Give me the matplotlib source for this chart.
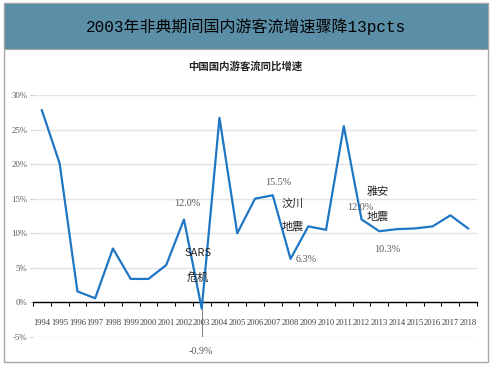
import numpy as np
import matplotlib as mp
from matplotlib import pyplot as plt
from matplotlib.patches import Rectangle

plt.rcParams['font.family'] = ['Noto Sans CJK SC', 'DejaVu Sans']

# data
years = [str(y) for y in range(1994, 2019)]
growth = [27.8, 20.1, 1.6, 0.6, 7.8, 3.4, 3.4, 5.4, 12.0, -0.9,
          26.7, 10.0, 15.0, 15.5, 6.3, 11.0, 10.5, 25.5, 12.0, 10.3,
          10.6, 10.7, 11.0, 12.6, 10.7]
y_ticks = [-5, 0, 5, 10, 15, 20, 25, 30]
title = "2003年非典期间国内游客流增速骤降13pcts"
subtitle = "中国国内游客流同比增速"

W, H = 492, 367
fig = plt.figure(figsize=(W / 100, H / 100), dpi=100)
fig.patch.set_facecolor("white")

def fx(px):
    return px / W

def fy(py):
    return 1 - py / H

# outer frame and banner
fig.patches.append(Rectangle((fx(4), fy(362)), fx(484), (362 - 3) / H,
                             transform=fig.transFigure, fill=False,
                             edgecolor="#a6a6a6", linewidth=1.0))
fig.patches.append(Rectangle((fx(4), fy(49)), fx(484), 46 / H,
                             transform=fig.transFigure, facecolor="#5b8fa8",
                             edgecolor="#a6a6a6", linewidth=0.8))
fig.text(0.5, fy(27), title, ha="center", va="center", fontsize=11.5,
         family=['Liberation Mono', 'Noto Sans CJK SC'], color="black",
         fontweight="medium")
fig.text(fx(245), fy(66), subtitle, ha="center", va="center", fontsize=7.5,
         fontweight="bold", color="#262626")

ax = fig.add_axes([fx(33), fy(337), fx(444), (337 - 95) / H])
x = np.arange(len(years))
blue = "#1f77c4"
ax.plot(x, growth, color=blue, linewidth=1.6, zorder=3)

ax.set_xlim(-0.5, len(years) - 0.5)
ax.set_ylim(-5, 30)
ax.set_yticks(y_ticks)
ax.set_yticklabels(["{v}%".format(v=v) for v in y_ticks],
                   family="Liberation Serif", fontsize=6.3, color="#595959")
ax.yaxis.grid(True, color="#e3e3e3", linewidth=1.0)
ax.set_axisbelow(True)
ax.tick_params(axis="y", length=2, width=0.6, color="#bfbfbf", pad=2)

for s in ["top", "right", "left"]:
    ax.spines[s].set_visible(False)
ax.spines["bottom"].set_position(("data", 0))
ax.spines["bottom"].set_color("black")
ax.spines["bottom"].set_linewidth(1.0)

ax.set_xticks(x)
ax.set_xticklabels(years, family="Liberation Serif", fontsize=6.2, color="#404040")
ax.set_xticks(np.arange(-0.5, len(years), 1), minor=True)
ax.tick_params(axis="x", which="major", length=0, pad=12)
ax.tick_params(axis="x", which="minor", length=3, width=0.8, color="black")

# leader line at 2003
i03 = years.index("2003")
ax.plot([i03, i03], [growth[i03], -5], color="#7f7f7f", linewidth=0.7, zorder=2)

lbl = dict(family="Liberation Serif", fontsize=7.3, color="#595959",
           ha="center", va="center")
note = dict(fontsize=8, color="#262626", ha="center", va="center")

def put(px, py, s, style):
    fig.text(fx(px), fy(py), s, **style)

put(187, 204, "12.0%", lbl)
put(201, 352, "-0.9%", lbl)
put(278, 183, "15.5%", lbl)
put(306, 260, "6.3%", lbl)
put(360, 207, "12.0%", lbl)
put(387, 250, "10.3%", lbl)
put(198, 253, "SARS", note)
put(198, 277, "危机", note)
put(293, 204, "汶川", note)
put(293, 226, "地震", note)
put(378, 192, "雅安", note)
put(378, 216, "地震", note)

plt.savefig("out.png", dpi=100)
